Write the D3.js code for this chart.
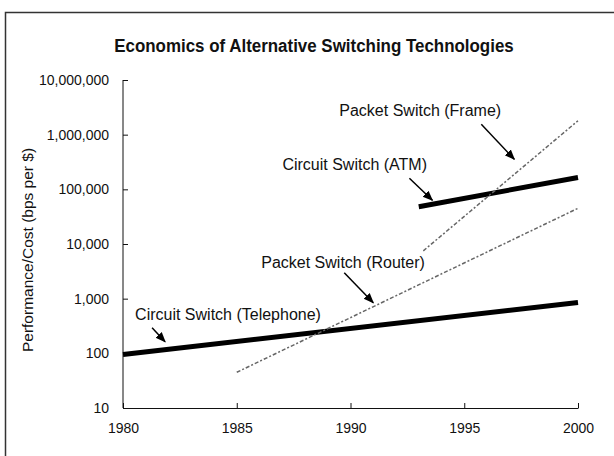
<!DOCTYPE html>
<meta charset="utf-8">
<style>
 body { margin: 0; background: #fff; }
 text { font-family: "Liberation Sans", Arial, sans-serif; fill: #111; }
 .title { font-size: 18.5px; font-weight: bold; }
 .axis text { font-size: 14px; }
 .axis path, .axis line { stroke: #111; }
 .lbl { font-size: 16px; }
 .circuit { fill: none; stroke: #000; stroke-width: 5px; }
 .packet { fill: none; stroke: #666; stroke-width: 1.5px; stroke-dasharray: 4,2,2,2; }
 .arrow { stroke: #000; stroke-width: 1.5px; }
</style>
<svg id="chart" width="614" height="456"></svg>
<script src="https://cdn.jsdelivr.net/npm/d3@7"></script>
<script>

 // series
 var teleYears = [1980, 2000],   teleVals = [95, 850];
 var atmYears = [1993, 2000],    atmVals = [48000, 165000];
 var routerYears = [1985, 2000], routerVals = [45, 45000];
 var frameYears = [1993.2, 2000], frameVals = [7500, 1800000];

 var xTicks = [1980, 1985, 1990, 1995, 2000];
 var yTicks = [10, 100, 1000, 10000, 100000, 1000000, 10000000];

 var labels = ["Circuit Switch (Telephone)", "Packet Switch (Router)", "Circuit Switch (ATM)", "Packet Switch (Frame)"];
 // year on each series where the arrow lands
 var arrowYears = [1981.85, 1991.0, 1993.6, 1997.2];

 var svg = d3.select("#chart");

 svg.append("rect").attr("x", 5.5).attr("y", 12.5).attr("width", 640).attr("height", 480)
    .attr("fill", "none").attr("stroke", "#333").attr("stroke-width", 1.5);

 svg.append("text").attr("class", "title").attr("transform", "translate(314,52) scale(0.915,1)")
    .attr("text-anchor", "middle").text("Economics of Alternative Switching Technologies");

 var x = d3.scaleLinear().domain([1980, 2000]).range([123, 578]);
 var y = d3.scaleLog().domain([10, 10000000]).range([408, 80]);

 var xAxis = svg.append("g").attr("class", "axis").attr("transform", "translate(0,408)")
    .call(d3.axisBottom(x).tickValues(xTicks).tickFormat(d3.format("d")).tickSizeInner(-5).tickSizeOuter(0).tickPadding(12));
 xAxis.selectAll("text").attr("dy", "0.9em");

 var yAxis = svg.append("g").attr("class", "axis").attr("transform", "translate(123,0)")
    .call(d3.axisLeft(y).tickValues(yTicks).tickFormat(d3.format(",")).tickSizeInner(-5).tickSizeOuter(0).tickPadding(14));
 yAxis.select(".domain").attr("d", "M0," + y(10000000) + "V" + y(10) + "H0");

 svg.append("text").attr("transform", "translate(33,250) rotate(-90)")
    .attr("text-anchor", "middle").style("font-size", "15.5px")
    .text("Performance/Cost (bps per $)");

 var line = d3.line().x(function(d) { return x(d[0]); }).y(function(d) { return y(d[1]); });

 function pairs(xs, vs) { return xs.map(function(v, i) { return [v, vs[i]]; }); }

 var series = [
     { cls: "circuit", pts: pairs(teleYears, teleVals) },
     { cls: "packet",  pts: pairs(routerYears, routerVals) },
     { cls: "circuit", pts: pairs(atmYears, atmVals) },
     { cls: "packet",  pts: pairs(frameYears, frameVals) }
 ];

 svg.selectAll(".series").data(series).enter().append("path")
    .attr("class", function(d) { return d.cls; })
    .attr("d", function(d) { return line(d.pts); });

 // label/arrow placement relative to the arrow tip (pixels); dy lifts the tip off the line
 var annot = [
     { dy: -8,  tx: -30,  ty: -22, ax: -13, ay: -14 },
     { dy: -4,  tx: -112, ty: -35, ax: -29, ay: -30 },
     { dy: -4,  tx: -150, ty: -30, ax: -23, ay: -22 },
     { dy: -15, tx: -175, ty: -43, ax: -33, ay: -35 }
 ];

 function valueAt(s, yr) {
     var p = s.pts, t = (yr - p[0][0]) / (p[1][0] - p[0][0]);
     return Math.exp(Math.log(p[0][1]) + t * (Math.log(p[1][1]) - Math.log(p[0][1])));
 }

 svg.append("defs").append("marker").attr("id", "head")
    .attr("viewBox", "0 0 10 10").attr("refX", 9).attr("refY", 5)
    .attr("markerWidth", 7).attr("markerHeight", 7).attr("orient", "auto")
    .append("path").attr("d", "M0,1L10,5L0,9Z").attr("fill", "#000");

 labels.forEach(function(name, i) {
     var a = annot[i];
     var px = x(arrowYears[i]), py = y(valueAt(series[i], arrowYears[i])) + a.dy;
     svg.append("line").attr("class", "arrow")
        .attr("x1", px + a.ax).attr("y1", py + a.ay).attr("x2", px).attr("y2", py)
        .attr("marker-end", "url(#head)");
     svg.append("text").attr("class", "lbl").attr("x", px + a.tx).attr("y", py + a.ty).text(name);
 });

</script>
